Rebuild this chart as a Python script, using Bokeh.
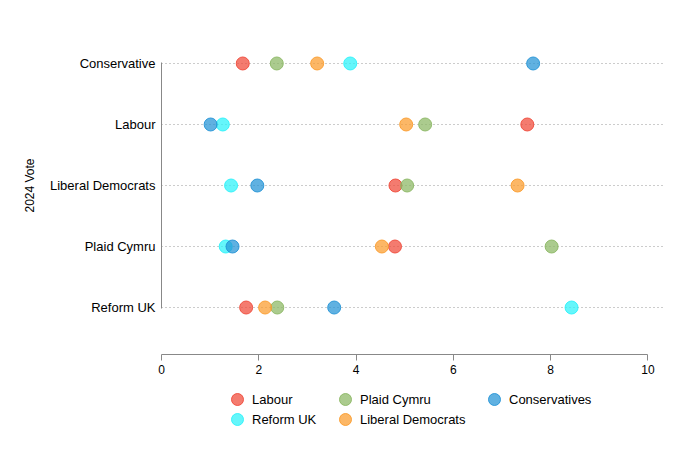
from bokeh.plotting import figure
from bokeh.layouts import column
from bokeh.models import FactorRange, Range1d, FixedTicker, Legend, LegendItem, ColumnDataSource
from bokeh.embed import file_html
from bokeh.resources import INLINE

categories = ["Conservative", "Labour", "Liberal Democrats", "Plaid Cymru", "Reform UK"]
labour = [1.67, 7.52, 4.81, 4.80, 1.74]
reform_uk = [3.88, 1.26, 1.43, 1.32, 8.43]
plaid_cymru = [2.37, 5.42, 5.05, 8.02, 2.38]
liberal_democrats = [3.20, 5.03, 7.32, 4.53, 2.13]
conservatives = [7.64, 1.01, 1.97, 1.46, 3.55]
x_ticks = [0, 2, 4, 6, 8, 10]

series = [
    ("Labour", labour, "#f04838"),
    ("Reform UK", reform_uk, "#2af2f9"),
    ("Plaid Cymru", plaid_cymru, "#8bb763"),
    ("Liberal Democrats", liberal_democrats, "#fb9b2b"),
    ("Conservatives", conservatives, "#2393d6"),
]
# legend grid: (name, column, row)
legend_cells = [("Labour", 0, 0), ("Plaid Cymru", 1, 0), ("Conservatives", 2, 0),
                ("Reform UK", 0, 1), ("Liberal Democrats", 1, 1)]
legend_col_x = [61, 169, 318]   # px offsets of legend columns from plot frame left
legend_row_y = [26, 6]          # px offsets of legend rows from strip bottom

FONT = "Liberation Sans"

y_range = FactorRange(factors=list(reversed(categories)), range_padding=0.27,
                      range_padding_units="absolute")
p = figure(y_range=y_range, x_range=Range1d(0, 10.32),
           output_backend="svg", toolbar_location=None,
           frame_width=502, frame_height=338,
           min_border_left=161, min_border_top=16, min_border_right=5, min_border_bottom=30)
p.outline_line_color = None
p.background_fill_color = "white"

sources = {}
for name, vals, color in series:
    src = ColumnDataSource(dict(x=vals, y=categories))
    sources[name] = src
    p.scatter("x", "y", source=src, size=13, fill_color=color, fill_alpha=0.72,
              line_color=color, line_alpha=0.9, line_width=1)

# axes
p.xaxis.ticker = FixedTicker(ticks=x_ticks)
p.xaxis.bounds = (0, 10)
p.xaxis.axis_line_color = "#888888"
p.xaxis.major_tick_line_color = "#888888"
p.xaxis.major_tick_in = 0
p.xaxis.major_tick_out = 6
p.xaxis.minor_tick_line_color = None
p.xaxis.major_label_text_font = FONT
p.xaxis.major_label_text_font_size = "12px"
p.xaxis.major_label_text_color = "black"
p.xaxis.major_label_standoff = 4

p.yaxis.bounds = (0.49, 4.51)
p.yaxis.axis_line_color = "#888888"
p.yaxis.major_tick_line_color = None
p.yaxis.major_tick_in = 0
p.yaxis.major_tick_out = 0
p.yaxis.minor_tick_line_color = None
p.yaxis.minor_tick_out = 0
p.yaxis.major_label_text_font = FONT
p.yaxis.major_label_text_font_size = "13px"
p.yaxis.major_label_text_color = "black"
p.yaxis.major_label_standoff = 6
p.yaxis.axis_label = "2024 Vote"
p.yaxis.axis_label_text_font = FONT
p.yaxis.axis_label_text_font_size = "12px"
p.yaxis.axis_label_text_font_style = "normal"
p.yaxis.axis_label_text_color = "black"
p.yaxis.axis_label_standoff = 10

p.xgrid.grid_line_color = None
p.ygrid.grid_line_color = "#999999"
p.ygrid.grid_line_dash = "1 3"
p.ygrid.grid_line_width = 1

# legend strip below the chart
LEG_H = 56
p2 = figure(width=668, height=LEG_H, x_range=Range1d(-20, -19),
            y_range=FactorRange(factors=list(reversed(categories))),
            x_axis_type=None, y_axis_type=None, output_backend="svg",
            toolbar_location=None, min_border=0)
p2.outline_line_color = None
p2.grid.visible = False
leg_renderers = {}
for name, vals, color in series:
    leg_renderers[name] = p2.scatter("x", "y", source=sources[name], size=13,
                                     fill_color=color, fill_alpha=0.72,
                                     line_color=color, line_alpha=0.9, line_width=1)

for name, ci, ri in legend_cells:
    lg = Legend(items=[LegendItem(label=name, renderers=[leg_renderers[name]])],
                orientation="vertical", location=(legend_col_x[ci], legend_row_y[ri]),
                label_text_font=FONT, label_text_font_size="13px", label_text_color="black",
                glyph_width=30, glyph_height=30, label_height=20, label_standoff=0,
                spacing=0, padding=0, margin=0, border_line_color=None,
                background_fill_alpha=0)
    p2.add_layout(lg, "center")

layout = column(p, p2)
open("out.html", "w").write(file_html(layout, INLINE))
